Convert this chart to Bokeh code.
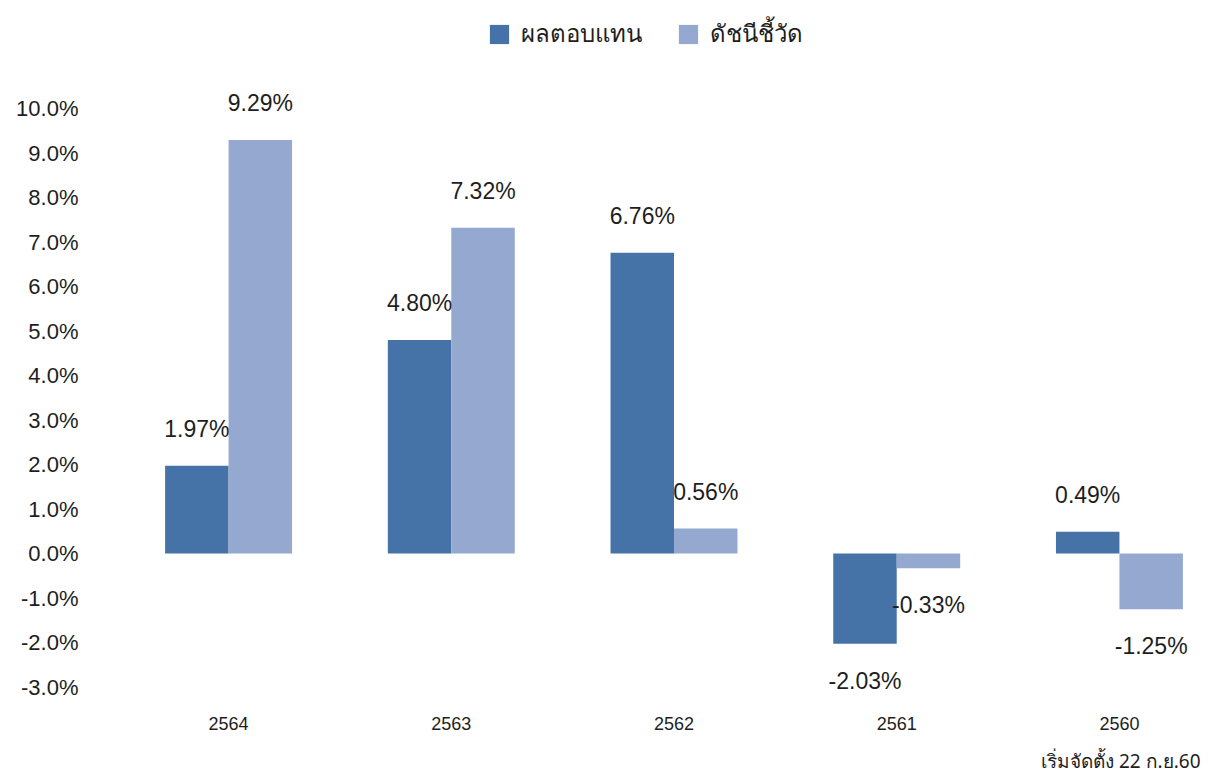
from bokeh.plotting import figure
from bokeh.models import (ColumnDataSource, Range1d, FixedTicker, PrintfTickFormatter,
                          Legend, LegendItem, Title)
from bokeh.transform import dodge
from bokeh.core.properties import value
from bokeh.embed import file_html
from bokeh.resources import INLINE

# ---- data ----
years = ["2564", "2563", "2562", "2561", "2560"]
fund_return = [1.97, 4.80, 6.76, -2.03, 0.49]
benchmark = [9.29, 7.32, 0.56, -0.33, -1.25]
y_ticks = [-3, -2, -1, 0, 1, 2, 3, 4, 5, 6, 7, 8, 9, 10]
series_names = ["ผลตอบแทน", "ดัชนีชี้วัด"]
footnote = "เริ่มจัดตั้ง 22 ก.ย.60"

DARK = "#4573A7"
LIGHT = "#95A9D0"
FONT = "Liberation Sans"
THAI_FONT = "Noto Sans"
TXT = "#1e1e1e"

idx = list(range(len(years)))
src = ColumnDataSource(dict(
    x=idx,
    a=fund_return,
    b=benchmark,
    a_lbl=["%.2f%%" % v for v in fund_return],
    b_lbl=["%.2f%%" % v for v in benchmark],
    a_off=[-37 if v >= 0 else 37 for v in fund_return],
    b_off=[-37 if v >= 0 else 37 for v in benchmark],
))

W = 0.285
p = figure(width=1208, height=776, output_backend="svg", toolbar_location=None,
           x_range=Range1d(-0.62, 4.364), y_range=Range1d(-3.303, 12.427),
           min_border_left=90, min_border_right=8, min_border_top=0, min_border_bottom=76)
p.outline_line_color = None
p.grid.visible = False

r1 = p.vbar(x=dodge("x", -W / 2, range=p.x_range), top="a", bottom=0, width=W, source=src,
            fill_color=DARK, line_color=None)
r2 = p.vbar(x=dodge("x", W / 2, range=p.x_range), top="b", bottom=0, width=W, source=src,
            fill_color=LIGHT, line_color=None)

p.text(x=dodge("x", -W / 2, range=p.x_range), y="a", text="a_lbl", y_offset="a_off", source=src,
       text_align="center", text_baseline="middle", text_font=value(FONT),
       text_font_size="23px", text_color=TXT)
p.text(x=dodge("x", W / 2, range=p.x_range), y="b", text="b_lbl", y_offset="b_off", source=src,
       text_align="center", text_baseline="middle", text_font=value(FONT),
       text_font_size="23px", text_color=TXT)

# axes
p.yaxis.ticker = FixedTicker(ticks=y_ticks)
p.yaxis.formatter = PrintfTickFormatter(format="%.1f%%")
p.yaxis.axis_line_color = None
p.yaxis.major_tick_line_color = None
p.yaxis.minor_tick_line_color = None
p.yaxis.major_tick_out = 0
p.yaxis.major_label_standoff = 12
p.yaxis.major_label_text_font = FONT
p.yaxis.major_label_text_font_size = "22px"
p.yaxis.major_label_text_color = TXT

p.xaxis.ticker = FixedTicker(ticks=idx)
p.xaxis.major_label_overrides = {i: y for i, y in zip(idx, years)}
p.xaxis.axis_line_color = None
p.xaxis.major_tick_line_color = None
p.xaxis.minor_tick_line_color = None
p.xaxis.major_tick_out = 0
p.xaxis.major_label_standoff = 16
p.xaxis.major_label_text_font = FONT
p.xaxis.major_label_text_font_size = "18px"
p.xaxis.major_label_text_color = TXT

# legend
legend = Legend(items=[LegendItem(label=series_names[0], renderers=[r1]),
                       LegendItem(label=series_names[1], renderers=[r2])],
                location="top_center", orientation="horizontal",
                glyph_width=24, glyph_height=24, label_standoff=10, spacing=34,
                margin=14, padding=10, border_line_color=None, background_fill_alpha=0,
                label_text_font=THAI_FONT, label_text_font_size="24px", label_text_color=TXT)
p.add_layout(legend, "center")

# spacer + footnote below the x axis
p.add_layout(Title(text=" ", text_font_size="8px", standoff=0), "below")
p.add_layout(Title(text=footnote, align="right", text_font=THAI_FONT, text_font_size="19px",
                   text_font_style="normal", text_color=TXT, standoff=4), "below")

open("out.html", "w").write(file_html(p, INLINE))
